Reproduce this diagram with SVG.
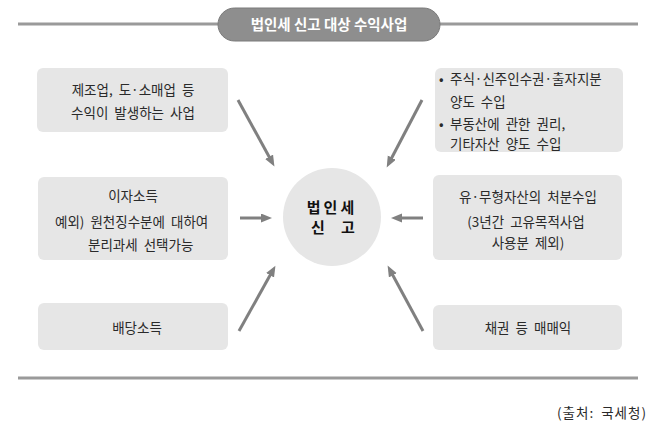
<svg xmlns="http://www.w3.org/2000/svg" width="654" height="435" viewBox="0 0 654 435">
<style>
  .box { fill: #e6e6e6; }
  .t { font-family: "Noto Sans CJK KR", "Noto Sans", sans-serif; font-size: 13.5px; fill: #2a2a2a; word-spacing: 3px; }
  .c { text-anchor: middle; }
  .rule { stroke: #9a9a9a; stroke-width: 3; }
  .conn { stroke: #808080; stroke-width: 3; fill: none; marker-end: url(#ah); }
  .title { font-family: "Noto Sans CJK KR", "Noto Sans", sans-serif; font-size: 14.5px; font-weight: bold; fill: #ffffff; text-anchor: middle; }
  .ctr { font-family: "Noto Sans CJK KR", "Noto Sans", sans-serif; font-size: 15px; font-weight: bold; fill: #111; text-anchor: middle; }
</style>
<defs>
  <marker id="ah" markerUnits="userSpaceOnUse" markerWidth="12" markerHeight="10" refX="6" refY="4.5" orient="auto">
    <path d="M0,0 L11,4.5 L0,9 z" fill="#808080"/>
  </marker>
</defs>
<rect width="654" height="435" fill="#ffffff"/>

<g id="header">
  <line class="rule" x1="18" y1="24" x2="638" y2="24"/>
  <rect x="218" y="8" width="222" height="33" rx="16.5" fill="#8e8e8e" stroke="#7a7a7a" stroke-width="1"/>
  <text class="title" x="329" y="29.5">법인세 신고 대상 수익사업</text>
</g>

<g id="node-manufacturing">
  <rect class="box" x="37" y="68" width="191" height="64" rx="6"/>
  <text class="t c" x="133" y="95">제조업, 도·소매업 등</text>
  <text class="t c" x="133" y="118">수익이 발생하는 사업</text>
</g>

<g id="node-stock">
  <rect class="box" x="435" y="68" width="188" height="84" rx="6"/>
  <text class="t" x="439" y="84">•</text>
  <text class="t" x="450" y="84">주식·신주인수권·출자지분</text>
  <text class="t" x="450" y="107">양도 수입</text>
  <text class="t" x="439" y="129">•</text>
  <text class="t" x="450" y="129">부동산에 관한 권리,</text>
  <text class="t" x="450" y="149">기타자산 양도 수입</text>
</g>

<g id="node-interest">
  <rect class="box" x="38" y="177" width="190" height="83" rx="6"/>
  <text class="t c" x="133" y="201">이자소득</text>
  <text class="t" x="55" y="227">예외) 원천징수분에  대하여</text>
  <text class="t" x="88" y="250">분리과세  선택가능</text>
</g>

<g id="node-asset">
  <rect class="box" x="433" y="175" width="189" height="85" rx="6"/>
  <text class="t c" x="528" y="202">유·무형자산의 처분수입</text>
  <text class="t c" x="526" y="227">(3년간 고유목적사업</text>
  <text class="t c" x="528" y="248">사용분 제외)</text>
</g>

<g id="node-dividend">
  <rect class="box" x="38" y="303" width="190" height="47" rx="6"/>
  <text class="t c" x="137" y="333">배당소득</text>
</g>

<g id="node-bond">
  <rect class="box" x="433" y="305" width="189" height="45" rx="6"/>
  <text class="t c" x="528" y="333">채권 등 매매익</text>
</g>

<g id="node-center">
  <circle cx="332" cy="217" r="49" fill="#e6e6e6"/>
  <text class="ctr" x="332" y="213" letter-spacing="3">법인세</text>
  <text class="ctr" x="318" y="233">신</text>
  <text class="ctr" x="348" y="233">고</text>
</g>

<g id="connectors">
  <line class="conn" x1="238" y1="100" x2="272" y2="162"/>
  <line class="conn" x1="422" y1="100" x2="389" y2="163"/>
  <line class="conn" x1="239" y1="331" x2="273" y2="270"/>
  <line class="conn" x1="423" y1="331" x2="390" y2="270"/>
  <line class="conn" x1="240" y1="218" x2="267" y2="218"/>
  <line class="conn" x1="423" y1="218" x2="396" y2="218"/>
</g>

<g id="footer">
  <line class="rule" x1="18" y1="378" x2="638" y2="378"/>
  <text class="t" x="647" y="418" text-anchor="end" font-size="16" letter-spacing="1" word-spacing="4">(출처: 국세청)</text>
</g>
</svg>
